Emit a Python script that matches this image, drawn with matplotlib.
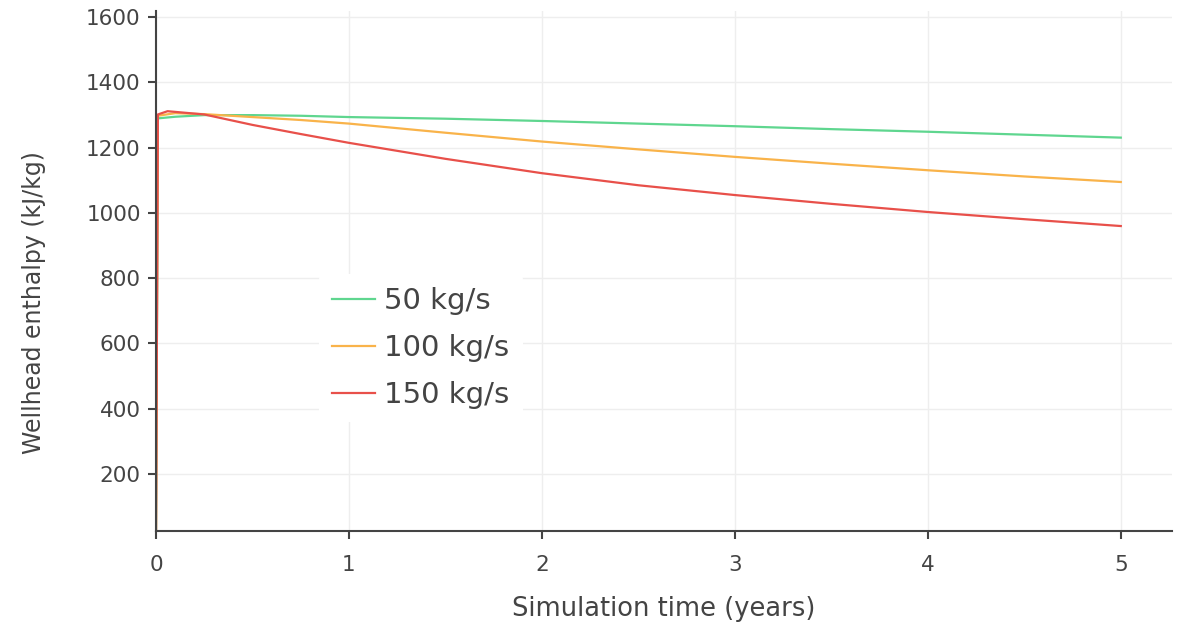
import matplotlib
matplotlib.use("Agg")
import matplotlib.pyplot as plt

# Data
t_50 = [0.0, 0.01, 0.1, 0.25, 0.5, 0.75, 1.0, 1.5, 2.0, 2.5, 3.0, 3.5, 4.0, 4.5, 5.0]
h_50 = [0, 1290, 1295, 1300, 1300, 1298, 1294, 1289, 1282, 1274, 1266, 1257, 1249, 1240, 1231]

t_100 = [0.0, 0.01, 0.1, 0.25, 0.5, 0.75, 1.0, 1.5, 2.0, 2.5, 3.0, 3.5, 4.0, 4.5, 5.0]
h_100 = [0, 1298, 1306, 1303, 1294, 1285, 1274, 1246, 1219, 1195, 1172, 1151, 1131, 1112, 1095]

t_150 = [0.0, 0.01, 0.06, 0.25, 0.5, 0.75, 1.0, 1.5, 2.0, 2.5, 3.0, 3.5, 4.0, 4.5, 5.0]
h_150 = [0, 1302, 1312, 1302, 1270, 1242, 1215, 1166, 1122, 1085, 1055, 1028, 1003, 981, 960]

labels = ["50 kg/s", "100 kg/s", "150 kg/s"]
colors = ["#5fd68f", "#f9b34a", "#e8504a"]

x_ticks = [0, 1, 2, 3, 4, 5]
y_ticks = [200, 400, 600, 800, 1000, 1200, 1400, 1600]

fig = plt.figure(figsize=(11.79, 6.30), dpi=100)
ax = fig.add_axes([0.1323, 0.157, 0.8617, 0.826])

for t, h, lab, c in zip([t_50, t_100, t_150], [h_50, h_100, h_150], labels, colors):
    ax.plot(t, h, color=c, lw=1.6, label=lab)

ax.set_xlim(0, 5.265)
ax.set_ylim(25, 1620)
ax.set_xticks(x_ticks)
ax.set_yticks(y_ticks)

txt = "#444444"
for s in ["top", "right"]:
    ax.spines[s].set_visible(False)
for s in ["left", "bottom"]:
    ax.spines[s].set_color(txt)
    ax.spines[s].set_linewidth(1.5)

ax.grid(True, color="#eeeeee", lw=1)
ax.set_axisbelow(True)
ax.tick_params(axis="both", colors=txt, labelsize=15.5, length=6, width=1.5, direction="out")
ax.tick_params(axis="x", pad=11)
ax.tick_params(axis="y", pad=5)

ax.set_xlabel("Simulation time (years)", fontsize=18.5, color=txt, labelpad=15)
ax.set_ylabel("Wellhead enthalpy (kJ/kg)", fontsize=17, color=txt)
ax.yaxis.set_label_coords(-0.108, 0.44)

leg = ax.legend(loc="upper left", bbox_to_anchor=(0.160, 0.494), fontsize=21,
                frameon=True, facecolor="white", edgecolor="none", framealpha=1,
                handlelength=1.5, handletextpad=0.3, labelspacing=0.65, borderaxespad=0,
                borderpad=0.45)
for text in leg.get_texts():
    text.set_color(txt)

fig.savefig("out.png", dpi=100, facecolor="white")
